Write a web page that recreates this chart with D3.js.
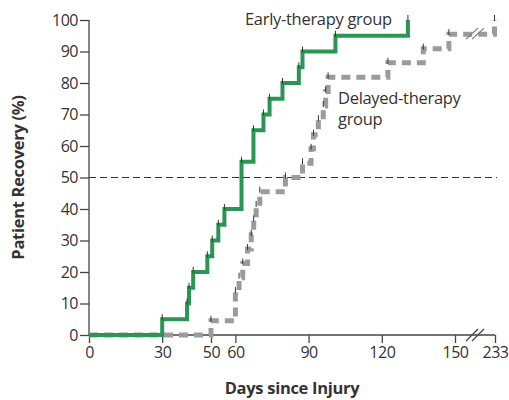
<!DOCTYPE html>
<html><head><meta charset="utf-8">
<script src="https://cdn.jsdelivr.net/npm/d3@7"></script>
<style>body{margin:0;background:#fff}svg{display:block}</style>
</head><body>
<script>
// Data
const xTicks = [0, 30, 50, 60, 90, 120, 150, 233];
const yTicks = [0, 10, 20, 30, 40, 50, 60, 70, 80, 90, 100];
const earlyDays = [0, 30, 40.2, 41, 42.7, 48.5, 50.5, 53, 55.5, 62.5, 67.4, 71.5, 74, 79.3, 86, 87.5, 101, 130.7];
const earlyPct  = [0, 5, 10, 15, 20, 25, 30, 35, 40, 55, 65, 70, 75, 80, 85, 90, 95, 100];
const delayedDays = [0, 50, 60, 61.5, 63, 65, 66.5, 67.5, 68.5, 70, 80.5, 87.5, 91, 92, 94, 96, 97, 98, 122.5, 137, 147.5, 232];
const delayedPct  = [0, 4.5, 13.6, 18.2, 22.7, 27.3, 31.8, 36.4, 40.9, 45.5, 50, 54.5, 59.1, 63.6, 68.2, 72.7, 77.3, 81.8, 86.4, 90.9, 95.5, 100];
const refLine = 50;

const W = 509, H = 400;
const svg = d3.select("body").append("svg").attr("width", W).attr("height", H);
const font = "'Open Sans', sans-serif";

const x = d3.scaleLinear().domain([0, 150, 233]).range([89, 455, 495]);
const y = d3.scaleLinear().domain([0, 100]).range([335, 20]);

const axisColor = "#444";
const textColor = "#333";

// reference line
svg.append("line")
  .attr("x1", x(0)).attr("x2", x(233) + 2)
  .attr("y1", y(refLine)).attr("y2", y(refLine))
  .attr("stroke", "#333").attr("stroke-width", 1).attr("stroke-dasharray", "7,4");

// axes
const yAxis = d3.axisLeft(y).tickValues(yTicks).tickSize(9).tickPadding(2);
const gy = svg.append("g").attr("transform", `translate(${x(0)},0)`).call(yAxis);
gy.select(".domain").attr("stroke", axisColor).attr("stroke-width", 1.3).attr("d", `M0,${y(100)}V${y(0)}`);
gy.selectAll(".tick line").attr("stroke", axisColor).attr("stroke-width", 1.3);
gy.selectAll(".tick text").attr("fill", textColor).style("font-family", font).style("font-size", "16px").attr("letter-spacing", "-0.5px");

const xAxis = d3.axisBottom(x).tickValues(xTicks).tickSize(8).tickPadding(4);
const gx = svg.append("g").attr("transform", `translate(0,${y(0)})`).call(xAxis);
gx.select(".domain").attr("stroke", axisColor).attr("stroke-width", 1.3).attr("d", `M${x(0)},0H${x(233)}`);
gx.selectAll(".tick line").attr("stroke", axisColor).attr("stroke-width", 1.3);
gx.selectAll(".tick text").attr("fill", textColor).style("font-family", font).style("font-size", "16px").attr("letter-spacing", "-0.5px");

// axis break on x axis
const bx = (x(150) + x(233)) / 2;
[-3, 3].forEach(o => {
  svg.append("line").attr("x1", bx + o - 6).attr("y1", y(0) + 6).attr("x2", bx + o + 6).attr("y2", y(0) - 6)
    .attr("stroke", axisColor).attr("stroke-width", 1.2);
});

// step line generator
const stepLine = d3.line().x(d => x(d[0])).y(d => y(d[1])).curve(d3.curveStepAfter);

const delayed = delayedDays.map((d, i) => [d, delayedPct[i]]);
const early = earlyDays.map((d, i) => [d, earlyPct[i]]);

svg.append("path").datum(delayed).attr("d", stepLine)
  .attr("fill", "none").attr("stroke", "#9b9b9b").attr("stroke-width", 5)
  .attr("stroke-dasharray", "9,6");

svg.append("path").datum(early).attr("d", stepLine)
  .attr("fill", "none").attr("stroke", "#2b9553").attr("stroke-width", 4);

// break mark on delayed curve
const bdy = y(95.5);
[-3, 3].forEach(o => {
  svg.append("line").attr("x1", bx + o - 6).attr("y1", bdy + 5).attr("x2", bx + o + 6).attr("y2", bdy - 6)
    .attr("stroke", "#777").attr("stroke-width", 1.2);
});

// small ticks at steps
function ticks(data) {
  svg.append("g").selectAll("line").data(data.slice(1)).join("line")
    .attr("x1", d => x(d[0])).attr("x2", d => x(d[0]))
    .attr("y1", d => y(d[1]) - 5).attr("y2", d => y(d[1]) + 1)
    .attr("stroke", "#333").attr("stroke-width", 1);
}
ticks(early);
ticks(delayed);

// labels
const lab = (tx, ty, s) => svg.append("text").attr("x", tx).attr("y", ty).text(s)
  .attr("fill", textColor).style("font-family", font).style("font-size", "16.5px").attr("letter-spacing", "-0.3px");
lab(245, 25, "Early-therapy group");
lab(338, 104, "Delayed-therapy");
lab(338, 125, "group");

svg.append("text").attr("x", 292).attr("y", 394).attr("text-anchor", "middle").text("Days since Injury")
  .attr("fill", textColor).style("font-family", font).style("font-size", "16.5px").style("font-weight", "bold").attr("letter-spacing", "-0.3px");
svg.append("text").attr("transform", `translate(24,${y(50)}) rotate(-90)`).attr("text-anchor", "middle")
  .text("Patient Recovery (%)")
  .attr("fill", textColor).style("font-family", font).style("font-size", "16.5px").style("font-weight", "bold").attr("letter-spacing", "-0.3px");
</script>
</body></html>
